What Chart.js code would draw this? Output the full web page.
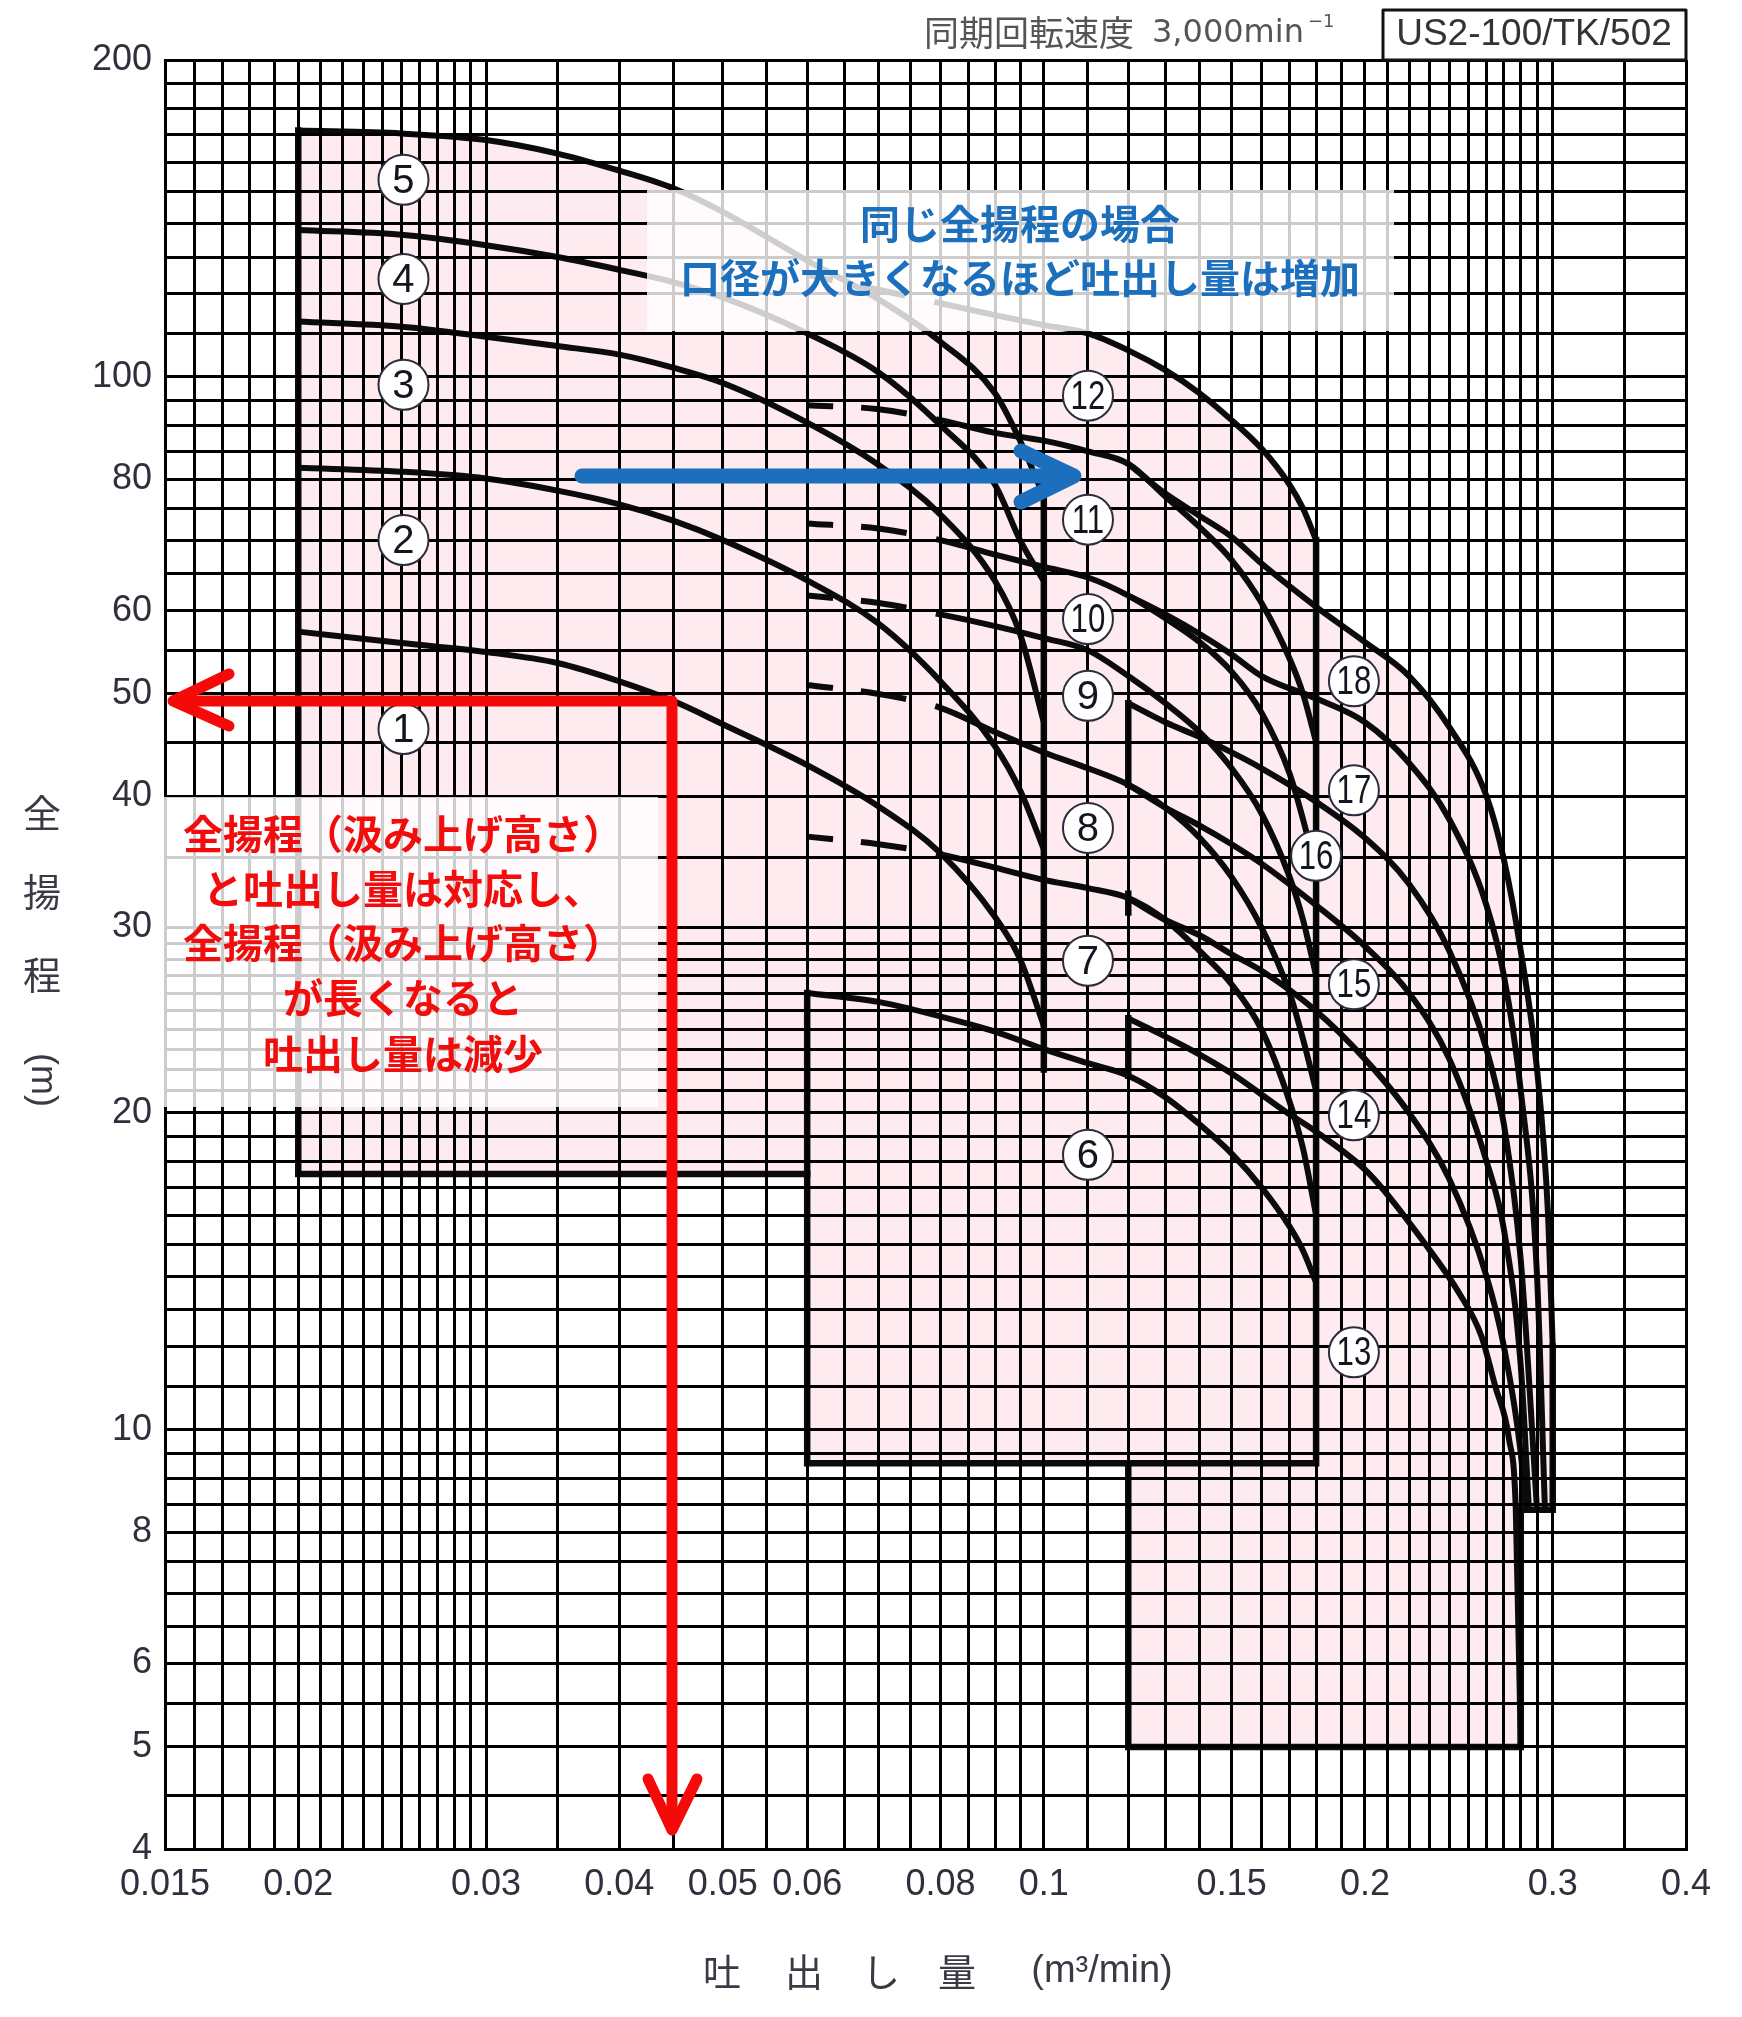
<!DOCTYPE html>
<html>
<head>
<meta charset="utf-8">
<script src="https://cdn.jsdelivr.net/npm/chart.js@4.4.1/dist/chart.umd.min.js"></script>
<style>
  html, body { margin: 0; padding: 0; background: #fff; }
  #wrap { position: relative; width: 1742px; height: 2017px; }
</style>
</head>
<body>
<div id="wrap"><canvas id="pumpChart"></canvas></div>
<script>
// Pump selection chart  US2-100/TK/502

// grid lines of the log paper
const xGrid = [0.015, 0.016, 0.017, 0.018, 0.019, 0.02, 0.021, 0.022, 0.023, 0.024, 0.025, 0.026, 0.027, 0.028, 0.029, 0.03,
  0.035, 0.04, 0.045, 0.05, 0.055, 0.06, 0.065, 0.07, 0.075, 0.08, 0.085, 0.09, 0.095, 0.1,
  0.11, 0.12, 0.13, 0.14, 0.15, 0.16, 0.17, 0.18, 0.19, 0.2, 0.21, 0.22, 0.23, 0.24, 0.25, 0.26, 0.27, 0.28, 0.29, 0.3, 0.35, 0.4];
const yGrid = [4, 4.5, 5, 5.5, 6, 6.5, 7, 7.5, 8, 8.5, 9, 9.5, 10, 11, 12, 13, 14, 15, 16, 17, 18, 19, 20,
  21, 22, 23, 24, 25, 26, 27, 28, 29, 30, 35, 40, 45, 50, 55, 60, 65, 70, 75, 80, 85, 90, 95, 100,
  110, 120, 130, 140, 150, 160, 170, 180, 190, 200];
const xTickLabels = [0.015, 0.02, 0.03, 0.04, 0.05, 0.06, 0.08, 0.1, 0.15, 0.2, 0.3, 0.4];
const yTickLabels = [4, 5, 6, 8, 10, 20, 30, 40, 50, 60, 80, 100, 200];

// models 1-5
const qA = [0.02, 0.025, 0.03, 0.035, 0.04, 0.045, 0.05, 0.06, 0.07, 0.08, 0.09, 0.095, 0.1];
const h1 = [57.3, 55.9, 54.8, 53.5, 51.4, 49.2, 46.8, 42.8, 39.1, 35.3, 30.7, 28, 24.2];
const h2 = [82, 81.3, 80.1, 78, 75.7, 73, 70, 64.1, 58.3, 51.4, 44.6, 40.5, 35.6];
const h3 = [112.9, 111.6, 109.2, 107, 105, 102, 98.7, 90.5, 82.5, 74, 64, 57, 47];
const h4 = [137.9, 136.5, 133.4, 130, 126.4, 123, 119, 110, 101, 90, 79, 70, 64];
const h5 = [171.4, 170.3, 167.9, 163, 157, 151, 143.5, 129, 118.5, 108, 96.5, 87, 77];

// models 6-12
const qB = [0.06, 0.07, 0.08, 0.09, 0.1, 0.11, 0.12, 0.13, 0.14, 0.15, 0.16, 0.17, 0.175, 0.18];
const h6 = [26, 25.5, 24.7, 23.9, 23, 22.3, 21.7, 20.7, 19.5, 18.3, 17, 15.6, 14.8, 13.8];
const h7 = [36.6, 36, 35.2, 34.2, 33.3, 32.7, 32, 30.5, 28.5, 26.5, 24, 20.5, 18.5, 16];
const h8 = [51, 50, 48.5, 46, 44, 42.5, 41, 39, 36.5, 33.5, 30, 26, 23.5, 21];
const h9 = [62, 61, 59.5, 58, 56.5, 55, 52, 49, 46, 42.5, 38.5, 33.5, 30.5, 27];
const h10 = [72.6, 71.8, 70, 67.8, 66, 64.5, 62, 59, 56, 52.5, 48, 42, 38, 34];
const h11 = [94, 93.2, 91, 88.5, 87, 85, 82.7, 77, 72, 67, 61, 54, 50, 45];
const h12 = [125, 121, 117.5, 114.5, 112, 110, 106, 101.5, 96.5, 91, 85.5, 79, 75, 70];

// models 13-18
const q13 = [0.12, 0.137, 0.15, 0.168, 0.18, 0.202, 0.228, 0.245, 0.257, 0.265, 0.273, 0.277, 0.28];
const h13 = [24.6, 23, 21.8, 20.1, 19.2, 17.5, 15, 13.5, 12.3, 11, 9.8, 8.4, 5];
const q14 = [0.12, 0.13, 0.14, 0.15, 0.16, 0.18, 0.2, 0.22, 0.24, 0.26, 0.27, 0.28, 0.283];
const h14 = [32, 30.5, 29.5, 28.3, 27.3, 25, 22.5, 20, 17.3, 14, 12, 9.5, 8.4];
const q15 = [0.12, 0.13, 0.14, 0.15, 0.16, 0.18, 0.2, 0.22, 0.24, 0.26, 0.27, 0.28, 0.285];
const h15 = [41, 39, 37.5, 36, 34.5, 31.5, 28.8, 26, 22.5, 18, 15.5, 11.5, 8.4];
const q16 = [0.12, 0.13, 0.14, 0.15, 0.16, 0.18, 0.2, 0.22, 0.24, 0.26, 0.27, 0.28, 0.29];
const h16 = [49, 47, 45.5, 44, 42.5, 39.5, 36.5, 33, 28.5, 23, 19.5, 14.5, 8.4];
const q17 = [0.12, 0.13, 0.14, 0.15, 0.16, 0.18, 0.2, 0.22, 0.24, 0.26, 0.27, 0.28, 0.29, 0.295];
const h17 = [62, 59.5, 57, 54.5, 52, 49.5, 47, 43, 38, 31.5, 27, 21, 14, 8.4];
const q18 = [0.12, 0.13, 0.14, 0.15, 0.16, 0.18, 0.2, 0.22, 0.24, 0.26, 0.27, 0.28, 0.29, 0.297, 0.3];
const h18 = [82.7, 77.5, 73.8, 70.5, 66.5, 60.5, 56, 52, 46.5, 40, 34.8, 28.5, 22, 16, 12];

// range limits (flow / head)
const floorA = 17.5, floorB = 9.3, floorC = 5, stepC = 8.4;
const edgeA = [[0.06, 17.5], [0.02, 17.5], [0.02, 171.4]];
const edgeA2 = [[0.1, 77], [0.1, 22]];
const edgeB = [[0.06, 26], [0.06, 9.3], [0.18, 9.3], [0.18, 70]];
const edgeC = [[0.12, 9.3], [0.12, 5], [0.28, 5], [0.28, 8.4], [0.3, 8.4], [0.3, 12]];
const edgeC1 = [[0.12, 49], [0.12, 41]];
const edgeC2 = [[0.12, 32.3], [0.12, 31]];
const edgeC3 = [[0.12, 24.6], [0.12, 21.7]];

// circled model numbers
const labelNums = ['1', '2', '3', '4', '5', '6', '7', '8', '9', '10', '11', '12', '13', '14', '15', '16', '17', '18'];
const labelQ = [0.0251, 0.0251, 0.0251, 0.0251, 0.0251, 0.11, 0.11, 0.11, 0.11, 0.11, 0.11, 0.11, 0.1953, 0.1953, 0.1953, 0.18, 0.1953, 0.1953];
const labelH = [46.3, 70, 98.3, 123.9, 153.9, 18.25, 27.9, 37.3, 49.8, 58.9, 73.2, 96, 11.85, 19.9, 26.5, 35.1, 40.5, 51.4];

const redLines = ['全揚程（汲み上げ高さ）', 'と吐出し量は対応し、', '全揚程（汲み上げ高さ）', 'が長くなると', '吐出し量は減少'];

const pts = (qs, hs) => qs.map((q, i) => ({ x: q, y: hs[i] }));
const pairPts = arr => arr.map(p => ({ x: p[0], y: p[1] }));

function curve(qs, hs, dashed) {
  const ds = {
    data: pts(qs, hs),
    borderColor: '#0b0b0b',
    borderWidth: 6,
    pointRadius: 0,
    fill: false,
    cubicInterpolationMode: 'monotone',
    order: 1
  };
  if (dashed) {
    ds.segment = { borderDash: c => (c.p1.parsed.x <= 0.0801 ? [26, 28, 46, 30] : undefined) };
  }
  return ds;
}

function edge(arr) {
  return {
    data: pairPts(arr),
    borderColor: '#0b0b0b',
    borderWidth: 6.5,
    borderCapStyle: 'square',
    borderJoinStyle: 'miter',
    pointRadius: 0,
    tension: 0,
    fill: false,
    order: 1
  };
}

function zone(poly) {
  return {
    data: pairPts(poly),
    borderWidth: 0,
    borderColor: 'rgba(0,0,0,0)',
    backgroundColor: '#fdebf0',
    fill: 'shape',
    pointRadius: 0,
    tension: 0,
    order: 5
  };
}

const polyA = [[0.02, floorA], ...qA.map((q, i) => [q, h5[i]]), [0.1, floorA]];
const polyB = [[0.06, floorB], ...qB.map((q, i) => [q, h12[i]]), [0.18, floorB]];
const polyC = [[0.12, floorC], ...q18.map((q, i) => [q, h18[i]]), [0.3, stepC], [0.28, stepC], [0.28, floorC]];

const notes = {
  id: 'notes',
  afterDraw(chart) {
    const { ctx, scales: { x, y } } = chart;
    ctx.save();

    // circled numbers
    labelNums.forEach((n, i) => {
      const px = x.getPixelForValue(labelQ[i]);
      const py = y.getPixelForValue(labelH[i]);
      ctx.beginPath();
      ctx.arc(px, py, 25, 0, Math.PI * 2);
      ctx.fillStyle = '#fff';
      ctx.fill();
      ctx.lineWidth = 2;
      ctx.strokeStyle = '#2c2c3c';
      ctx.stroke();
      ctx.fillStyle = '#151520';
      ctx.font = '40px "Liberation Sans", Arial, sans-serif';
      ctx.textAlign = 'center';
      ctx.textBaseline = 'middle';
      ctx.save();
      ctx.translate(px, py + 2);
      if (n.length > 1) ctx.scale(0.78, 1);
      ctx.fillText(n, 0, 0);
      ctx.restore();
    });

    // translucent panels
    ctx.fillStyle = 'rgba(255,255,255,0.8)';
    ctx.fillRect(647, 190, 747, 141);
    ctx.fillRect(163, 797, 495, 310);

    ctx.textAlign = 'center';
    ctx.textBaseline = 'middle';
    ctx.font = 'bold 40px "Noto Sans CJK JP", sans-serif';
    ctx.fillStyle = '#1b6fbd';
    ctx.fillText('同じ全揚程の場合', 1020, 224);
    ctx.fillText('口径が大きくなるほど吐出し量は増加', 1020, 278);

    ctx.fillStyle = '#f20c0c';
    const redY = [834, 889, 943, 998, 1054];
    redLines.forEach((t, i) => ctx.fillText(t, 403, redY[i]));

    // blue arrow
    ctx.lineCap = 'round';
    ctx.lineJoin = 'round';
    ctx.strokeStyle = '#1b6fbd';
    ctx.lineWidth = 15;
    ctx.beginPath();
    ctx.moveTo(582, 476);
    ctx.lineTo(1070, 476);
    ctx.stroke();
    ctx.beginPath();
    ctx.moveTo(1021, 451);
    ctx.lineTo(1074, 476);
    ctx.lineTo(1021, 502);
    ctx.stroke();

    // red arrows
    ctx.strokeStyle = '#f50a0a';
    ctx.lineWidth = 11;
    ctx.beginPath();
    ctx.moveTo(176, 701);
    ctx.lineTo(672, 701);
    ctx.lineTo(672, 1826);
    ctx.stroke();
    ctx.beginPath();
    ctx.moveTo(229, 674);
    ctx.lineTo(173, 701);
    ctx.lineTo(229, 726);
    ctx.stroke();
    ctx.beginPath();
    ctx.moveTo(648, 1779);
    ctx.lineTo(672, 1830);
    ctx.lineTo(697, 1779);
    ctx.stroke();

    // axis titles
    ctx.fillStyle = '#3a3a44';
    ctx.font = '38px "Noto Sans CJK JP", sans-serif';
    [['全', 813], ['揚', 892], ['程', 975]].forEach(([c, cy]) => ctx.fillText(c, 42, cy));
    ctx.save();
    ctx.translate(42, 1080);
    ctx.rotate(Math.PI / 2);
    ctx.font = '36px "Liberation Sans", sans-serif';
    ctx.fillText('(m)', 0, 0);
    ctx.restore();

    ctx.font = '38px "Noto Sans CJK JP", sans-serif';
    [['吐', 722], ['出', 804], ['し', 881], ['量', 957]].forEach(([c, cx]) => ctx.fillText(c, cx, 1972));
    ctx.font = '38px "Liberation Sans", sans-serif';
    ctx.fillText('(m³/min)', 1102, 1972);

    // speed note and model box
    ctx.textAlign = 'left';
    ctx.fillStyle = '#555';
    ctx.font = '35px "Noto Sans CJK JP", sans-serif';
    ctx.fillText('同期回転速度', 924, 33);
    ctx.font = '32px "DejaVu Sans", sans-serif';
    ctx.fillText('3,000min', 1152, 34);
    ctx.font = '18px "DejaVu Sans", sans-serif';
    ctx.fillText('−1', 1308, 22);

    ctx.strokeStyle = '#111';
    ctx.lineWidth = 3;
    ctx.strokeRect(1383, 10, 303, 50);
    ctx.fillStyle = '#333';
    ctx.font = '37px "Liberation Sans", sans-serif';
    ctx.textAlign = 'center';
    ctx.fillText('US2-100/TK/502', 1534, 35);

    ctx.restore();
  }
};

const tickFont = { family: '"Liberation Sans Narrow", "Liberation Sans", Arial, sans-serif', size: 36 };

new Chart(document.getElementById('pumpChart').getContext('2d'), {
  type: 'line',
  data: {
    datasets: [
      zone(polyA), zone(polyB), zone(polyC),
      curve(qA, h1), curve(qA, h2), curve(qA, h3), curve(qA, h4), curve(qA, h5),
      curve(qB, h6), curve(qB, h7, true), curve(qB, h8, true), curve(qB, h9, true),
      curve(qB, h10, true), curve(qB, h11, true), curve(qB, h12, true),
      curve(q13, h13), curve(q14, h14), curve(q15, h15), curve(q16, h16), curve(q17, h17), curve(q18, h18),
      edge(edgeA), edge(edgeA2), edge(edgeB), edge(edgeC), edge(edgeC1), edge(edgeC2), edge(edgeC3)
    ]
  },
  options: {
    responsive: true,
    maintainAspectRatio: false,
    animation: false,
    events: [],
    layout: { padding: { top: 60, right: 56, left: 0, bottom: 0 } },
    plugins: { legend: { display: false }, tooltip: { enabled: false } },
    scales: {
      x: {
        type: 'logarithmic',
        min: 0.015,
        max: 0.4,
        afterBuildTicks: s => { s.ticks = xGrid.map(v => ({ value: v })); },
        afterFit: s => { s.height = 168; },
        grid: { color: '#000', lineWidth: 3, drawTicks: false, z: 1 },
        border: { color: '#000', width: 3, z: 1 },
        ticks: {
          autoSkip: false, maxRotation: 0, minRotation: 0, padding: 14,
          color: '#30303c', font: tickFont,
          callback: v => (xTickLabels.includes(v) ? String(v) : '')
        }
      },
      y: {
        type: 'logarithmic',
        min: 4,
        max: 200,
        afterBuildTicks: s => { s.ticks = yGrid.map(v => ({ value: v })); },
        afterFit: s => { s.width = 165; },
        grid: { color: '#000', lineWidth: 3, drawTicks: false, z: 1 },
        border: { color: '#000', width: 3, z: 1 },
        ticks: {
          autoSkip: false, padding: 13,
          color: '#30303c', font: tickFont,
          callback: v => (yTickLabels.includes(v) ? String(v) : '')
        }
      }
    }
  },
  plugins: [notes]
});
</script>
</body>
</html>
